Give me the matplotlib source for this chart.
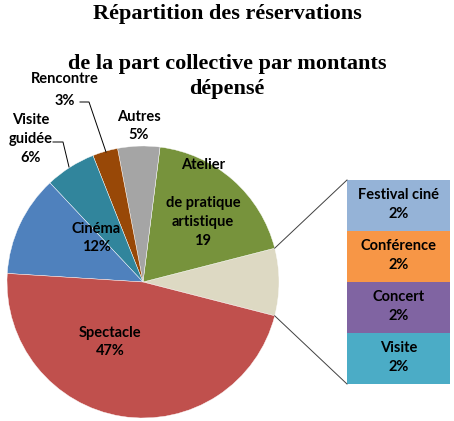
import numpy as np
import matplotlib.pyplot as plt

# pie data (percent), counter-clockwise starting from the "other" slice
pie_labels = ['', 'Atelier\n\nde pratique\nartistique\n19', 'Autres\n5%', 'Rencontre\n3%',
              'Visite\nguidée\n6%', 'Cinéma\n12%', 'Spectacle\n47%']
pie_values = [8, 19, 5, 3, 6, 12, 47]
pie_colors = ['#DDD9C3', '#77933C', '#A5A5A5', '#984807', '#31859C', '#4F81BD', '#C0504D']

# secondary bar, bottom to top
bar_labels = ['Visite\n2%', 'Concert\n2%', 'Conférence\n2%', 'Festival ciné\n2%']
bar_values = [2, 2, 2, 2]
bar_colors = ['#4BACC6', '#8064A2', '#F79646', '#95B3D7']

title_lines = ['Répartition des réservations', 'de la part collective par montants', 'dépensé']

W, H = 454, 421
fig = plt.figure(figsize=(W / 100, H / 100), dpi=100)
ax = fig.add_axes([0, 0, 1, 1])

cx, cy, r = 143, H - 282, 136
start = -pie_values[0] / 100 * 360 / 2
wedges, _ = ax.pie(pie_values, colors=pie_colors, startangle=start, counterclock=True,
                   center=(cx, cy), radius=r, frame=True,
                   wedgeprops=dict(edgecolor='white', linewidth=0.3))
ax.set_xlim(0, W)
ax.set_ylim(0, H)
ax.set_aspect('equal')
ax.axis('off')

lab_font = dict(fontsize=10.5, fontweight='bold', family=['Lato', 'DejaVu Sans'],
                ha='center', va='center', linespacing=1.45)

# stacked bar
bx, bw = 398.5, 103
scale = 204 / sum(bar_values)
bottom = 37
for lab, v, c in zip(bar_labels, bar_values, bar_colors):
    ax.bar(bx, v * scale, bottom=bottom, width=bw, color=c, linewidth=0)
    ax.text(bx, bottom + v * scale / 2 + 1, lab, **lab_font)
    bottom += v * scale
bar_top, bar_bot = bottom, 37

# connector lines from the "other" slice to the bar
a = np.deg2rad(start)
ax.plot([cx + r * np.cos(-a), bx - bw / 2], [cy + r * np.sin(-a), bar_top],
        color='#404040', lw=0.7)
ax.plot([cx + r * np.cos(a), bx - bw / 2], [cy + r * np.sin(a), bar_bot],
        color='#404040', lw=0.7)

positions = [None, (203, H - 203), (139, H - 126), (65, H - 90),
             (31, H - 139), (96, H - 238), (110, H - 342)]
for lab, pos in zip(pie_labels, positions):
    if pos:
        extra = {'linespacing': 1.7} if lab.startswith('Rencontre') else {}
        ax.text(pos[0], pos[1], lab, **{**lab_font, **extra})

# leader lines
ax.plot([80, 89, 106], [H - 102, H - 102, H - 152], color='black', lw=0.7)
ax.plot([53, 63, 69], [H - 142, H - 142, H - 167], color='black', lw=0.7)

for line, y in zip(title_lines, [14, 64, 89]):
    fig.text(0.5, 1 - y / H, line, ha='center', va='center', fontsize=16,
             fontweight='bold', family='Liberation Serif')

fig.savefig('out.png', dpi=100)
